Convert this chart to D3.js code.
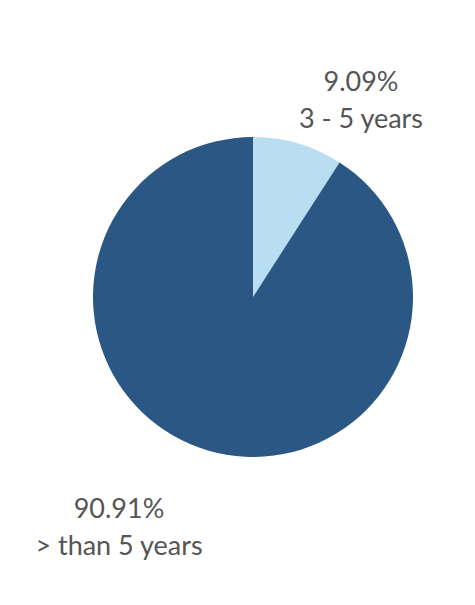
<!DOCTYPE html>
<meta charset="UTF-8">
<style>
  body { margin: 0; background: #fff; }
  text { font-family: Lato, "Open Sans", sans-serif; fill: #555; }
</style>
<svg width="475" height="605"></svg>
<script src="https://d3js.org/d3.v7.min.js"></script>
<script>

var categories = ["3 - 5 years", "> than 5 years"];
var values = [9.09, 90.91];
var colors = ["#b9ddf1", "#2a5783"];

var svg = d3.select("svg"),
    cx = 253, cy = 297, radius = 160;

var g = svg.append("g").attr("transform", "translate(" + cx + "," + cy + ")");

var pie = d3.pie().sort(null).value(function(d) { return d; });
var arc = d3.arc().innerRadius(0).outerRadius(radius);

var arcs = pie(values);

g.selectAll("path")
    .data(arcs)
    .enter().append("path")
    .attr("d", arc)
    .attr("fill", function(d, i) { return colors[i]; });

// label spots, relative to the pie centre (tableau puts them outside)
var labelPos = [[108, -206], [-134, 221]];

var labels = g.selectAll("g.label")
    .data(arcs)
    .enter().append("g")
    .attr("class", "label")
    .attr("transform", function(d, i) { return "translate(" + labelPos[i][0] + "," + labelPos[i][1] + ")"; });

labels.append("text")
    .attr("text-anchor", "middle")
    .attr("font-size", 27)
    .text(function(d) { return d3.format(".2f")(d.data) + "%"; });

labels.append("text")
    .attr("text-anchor", "middle")
    .attr("font-size", 27)
    .attr("dy", 37)
    .text(function(d, i) { return categories[i]; });

</script>
